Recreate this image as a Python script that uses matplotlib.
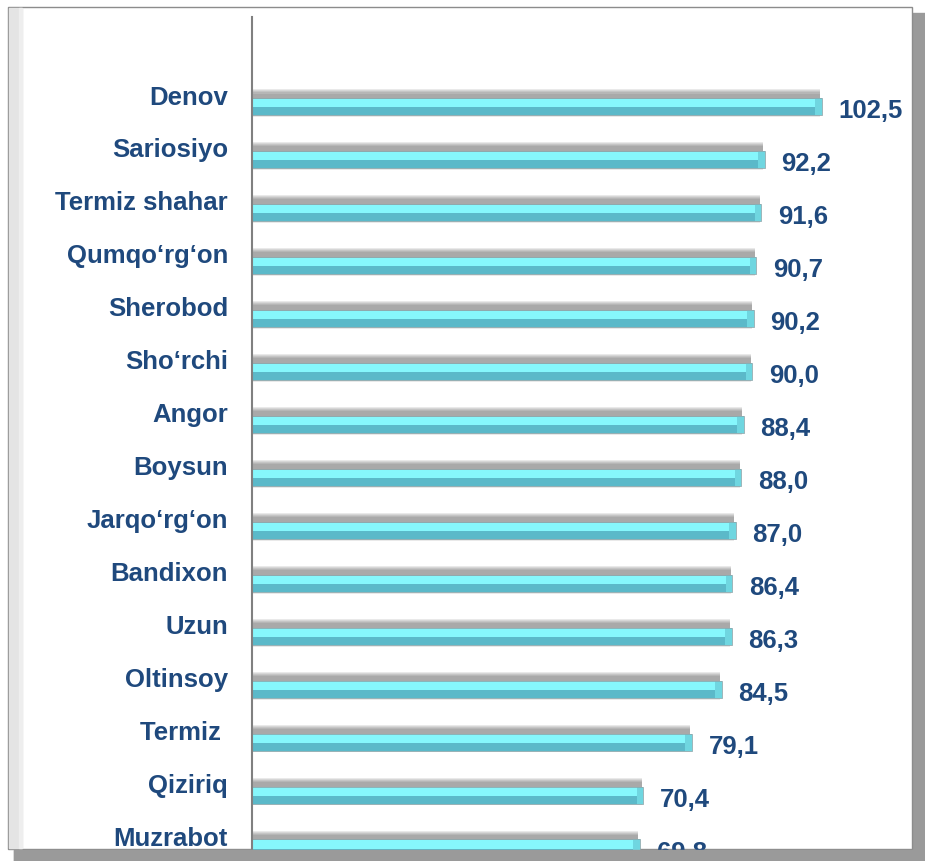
import numpy as np
import matplotlib.pyplot as plt
from matplotlib.patches import Rectangle

plt.rcParams['font.family'] = ['Liberation Sans', 'DejaVu Sans']

# ============================================================
# Data
# ============================================================
districts = ['Denov', 'Sariosiyo', 'Termiz shahar', 'Qumqo\u2018rg\u2018on', 'Sherobod',
             'Sho\u2018rchi', 'Angor', 'Boysun', 'Jarqo\u2018rg\u2018on', 'Bandixon',
             'Uzun', 'Oltinsoy', 'Termiz ', 'Qiziriq', 'Muzrabot']
values = [102.5, 92.2, 91.6, 90.7, 90.2, 90.0, 88.4, 88.0, 87.0, 86.4,
          86.3, 84.5, 79.1, 70.4, 69.8]
value_labels = [f"{v:.1f}".replace('.', ',') for v in values]

W, H = 925, 862
text_col = '#1F497D'

fig = plt.figure(figsize=(W / 100, H / 100), dpi=100)
fig.patch.set_facecolor('white')


def px(x0, y0, x1, y1):
    # pixel box (top-left origin) -> figure fraction rect
    return (x0 / W, 1 - y1 / H, (x1 - x0) / W, (y1 - y0) / H)


# ============================================================
# Frame with shadow
# ============================================================
bg = fig.add_axes([0, 0, 1, 1])
bg.set_xlim(0, W)
bg.set_ylim(H, 0)
bg.axis('off')
bg.add_patch(Rectangle((14, 14), W - 14, H - 14, color='#9a9a9a', zorder=0))
bg.add_patch(Rectangle((8, 8), 904, 842, facecolor='white', edgecolor='#8c8c8c', lw=1, zorder=1))
bg.add_patch(Rectangle((9, 9), 13, 840, color='#e4e4e4', zorder=2))
bg.add_patch(Rectangle((19, 9), 3, 840, color='#eeeeee', zorder=2))

# ============================================================
# Bars
# ============================================================
ax = fig.add_axes(px(252, 18, 912, 852))
ax.patch.set_alpha(0)
n = len(values)
y = np.arange(n)
slot = 52.96
bh = 17 / slot

# soft shadow above bars
for k in range(5):
    grow = (2 + 2.2 * k) / slot
    ax.barh(y - 3.5 / slot, values, height=bh + grow, left=-0.3,
            color='#505050', alpha=0.12, lw=0, zorder=1)

ax.barh(y + bh * 0.22, values, height=bh * 0.56, color='#5BB9C9', lw=0, zorder=3)
ax.barh(y - bh * 0.2, values, height=bh * 0.5, color='#86F7FC', lw=0, zorder=3)
ax.barh(y, values, height=bh, facecolor='none', edgecolor='#8aa9ae', lw=0.6, zorder=4)
# bevelled right end
ax.barh(y, [1.2] * n, left=np.array(values) - 1.2, height=bh,
        color='#6fd6e0', lw=0, zorder=3.5)

for i, v in enumerate(values):
    ax.text(-4.3, i - 10 / slot, districts[i], ha='right', va='center',
            fontsize=18.5, fontweight='bold', color=text_col, clip_on=False)
    ax.text(v + 3.0, i + 3.5 / slot, value_labels[i], ha='left', va='center',
            fontsize=18.5, fontweight='bold', color=text_col, clip_on=False)

ax.set_xlim(0, 660 / 5.56)
ax.set_ylim(n - 1 + 3 / slot, -89.5 / slot)
ax.set_xticks([])
ax.set_yticks([])
for s in ['top', 'right', 'bottom']:
    ax.spines[s].set_visible(False)
ax.spines['left'].set_color('#808080')
ax.spines['left'].set_linewidth(1.5)
ax.spines['left'].set_zorder(5)

# bottom shadow strip drawn over the last label, as in the original frame
top = fig.add_axes([0, 0, 1, 1])
top.set_xlim(0, W)
top.set_ylim(H, 0)
top.axis('off')
top.patch.set_alpha(0)
top.add_patch(Rectangle((14, 851), W - 14, H - 851, color='#9a9a9a'))

fig.savefig('out.png', dpi=100)
